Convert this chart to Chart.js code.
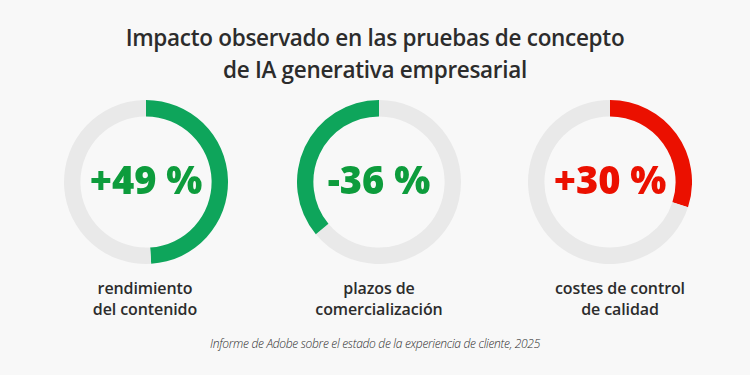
<!DOCTYPE html>
<html>
<head>
<meta charset="utf-8">
<script src="https://cdn.jsdelivr.net/npm/chart.js@4"></script>
<style>
  html, body { margin: 0; padding: 0; }
  body { width: 750px; height: 375px; background: #f8f8f8; position: relative; overflow: hidden;
         font-family: "Open Sans", sans-serif; color: #2c2c2c; }
  .title { position: absolute; left: 0; width: 750px; top: 22px; text-align: center;
           font-size: 22.5px; font-weight: 600; line-height: 32px; letter-spacing: -0.3px; }
  .ring { position: absolute; width: 164px; height: 164px; }
  .label { position: absolute; top: 278px; width: 200px; text-align: center;
           font-size: 16px; font-weight: 600; line-height: 21px; letter-spacing: -0.1px; }
  .source { position: absolute; left: 0; width: 750px; top: 335px; text-align: center;
            font-size: 12px; font-style: italic; font-weight: 300; color: #2e2e2e; letter-spacing: -0.3px; }
</style>
</head>
<body>
<div class="title">Impacto observado en las pruebas de concepto<br>de IA generativa empresarial</div>
<div class="ring" style="left:64px;top:100px"><canvas id="c0"></canvas></div>
<div class="ring" style="left:297px;top:100px"><canvas id="c1"></canvas></div>
<div class="ring" style="left:528px;top:100px"><canvas id="c2"></canvas></div>
<div class="label" style="left:45px">rendimiento<br>del contenido</div>
<div class="label" style="left:279px">plazos de<br>comercialización</div>
<div class="label" style="left:520px">costes de control<br>de calidad</div>
<div class="source">Informe de Adobe sobre el estado de la experiencia de cliente, 2025</div>
<script>
const categories = ['rendimiento del contenido', 'plazos de comercialización', 'costes de control de calidad'];
const values = [49, -36, 30];
const valueLabels = ['+49 %', '-36 %', '+30 %'];
const arcColors = ['#0ea55b', '#0ea55b', '#eb1000'];
const textColors = ['#0d9c3c', '#0d9c3c', '#eb1000'];

const centerText = {
  id: 'centerText',
  afterDraw(chart, args, opts) {
    const {ctx, chartArea} = chart;
    const x = (chartArea.left + chartArea.right) / 2;
    const y = (chartArea.top + chartArea.bottom) / 2;
    ctx.save();
    ctx.font = '800 38px "Open Sans", sans-serif';
    ctx.fillStyle = opts.color;
    ctx.textAlign = 'center';
    ctx.textBaseline = 'middle';
    ctx.fillText(opts.text, x, y + 1);
    ctx.restore();
  }
};

values.forEach((v, i) => {
  const part = Math.abs(v);
  // negative values run counter-clockwise from the top
  const data = v < 0 ? [100 - part, part] : [part, 100 - part];
  const colors = v < 0 ? ['#e9e9e9', arcColors[i]] : [arcColors[i], '#e9e9e9'];
  new Chart(document.getElementById('c' + i), {
    type: 'doughnut',
    data: {
      labels: v < 0 ? ['resto', categories[i]] : [categories[i], 'resto'],
      datasets: [{ data: data, backgroundColor: colors, borderWidth: 0 }]
    },
    options: {
      responsive: true,
      maintainAspectRatio: false,
      animation: false,
      cutout: '80%',
      events: [],
      plugins: {
        legend: { display: false },
        tooltip: { enabled: false },
        centerText: { text: valueLabels[i], color: textColors[i] }
      }
    },
    plugins: [centerText]
  });
});
</script>
</body>
</html>
